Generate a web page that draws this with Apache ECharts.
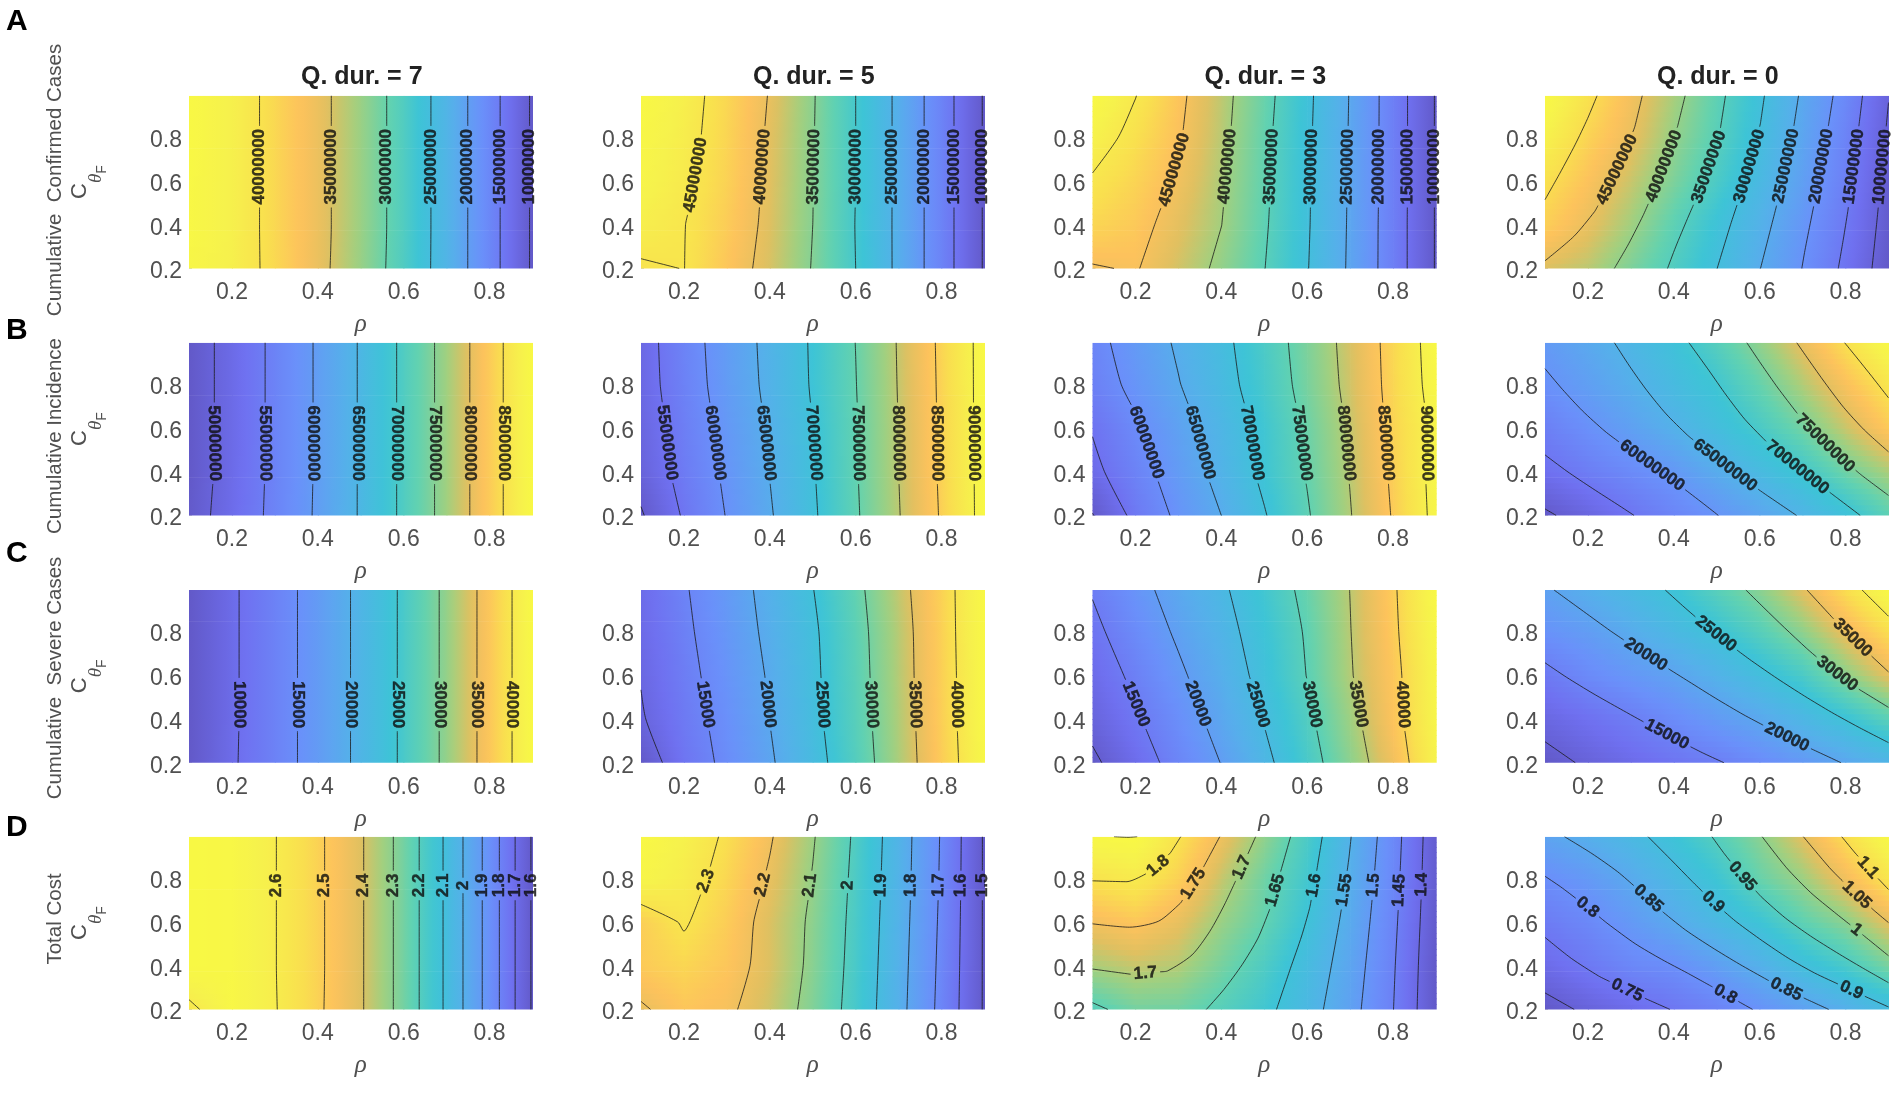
<!DOCTYPE html>
<html>
<head>
<meta charset="utf-8">
<title>Q. dur. contour panels</title>
<script src="https://cdn.jsdelivr.net/npm/echarts@6/dist/echarts.min.js"></script>
<style>
html,body{margin:0;padding:0;background:#fff;}
#chart{width:1901px;height:1094px;}
</style>
</head>
<body>
<div id="chart"></div>
<script>
// grid nodes of every panel
var rhoGrid = [0.1, 0.2, 0.3, 0.4, 0.5, 0.6, 0.7, 0.8, 0.9];
var cGrid = [0.99, 0.8, 0.6, 0.4, 0.2];
var tickValues = [0.2, 0.4, 0.6, 0.8];
var durTitles = ['Q. dur. = 7', 'Q. dur. = 5', 'Q. dur. = 3', 'Q. dur. = 0'];
var rowLetters = ['A', 'B', 'C', 'D'];
var rowNames = ['Cumulative  Confirmed Cases', 'Cumulative Incidence', 'Cumulative  Severe Cases', 'Total Cost'];
var rowUnits = [1000000, 1000000, 1000, 1];

// A: confirmed cases, millions. rows go from C=0.99 down to C=0.2
var zA1 = [[43.4,41.8,39.0,36.1,32.6,28.3,23.1,16.8,9.5],[43.4,41.8,39.0,36.1,32.6,28.3,23.1,16.8,9.5],[43.3,41.8,39.0,36.1,32.6,28.3,23.1,16.8,9.5],[43.2,41.8,39.0,36.1,32.6,28.3,23.1,16.8,9.5],[42.9,41.7,39.1,36.0,32.5,28.2,23.1,16.8,9.5]];
var levelsA1 = [40,35,30,25,20,15,10];
var labelsA1 = [[40,.266,.665],[35,.44,.665],[30,.565,.665],[25,.668,.665],[20,.753,.665],[15,.827,.665],[10,.893,.665]];
var zA2 = [[48.5,46.5,43.4,39.8,35.3,30.0,24.1,17.2,9.6],[48,46.2,43.2,39.5,35.2,30,24.1,17.2,9.6],[47.5,45.7,42.9,39.3,35.1,30,24.1,17.2,9.6],[46.4,45.1,42.4,39.1,35,29.9,24.1,17.2,9.6],[44.6,45.05,41.8,38.8,34.8,30,24.1,17.2,9.6]];
var levelsA2 = [45,40,35,30,25,20,15,10];
var labelsA2 = [[45,.23,.627],[40,.385,.665],[35,.505,.665],[30,.6,.665],[25,.686,.665],[20,.762,.665],[15,.831,.665],[10,.895,.665]];
var zA3 = [[53.5,50.1,45.9,41.4,36.4,30.9,24.8,17.7,9.7],[51.8,48.8,45.4,41.1,36,30.7,24.7,17.7,9.7],[49.6,47.4,44.5,40.5,35.8,30.5,24.6,17.7,9.7],[47.7,46.3,43.4,40.05,35.5,30.4,24.5,17.6,9.7],[44.7,45.3,42.3,39.1,35.1,30.2,24.4,17.6,9.7]];
var levelsA3 = [50,45,40,35,30,25,20,15,10];
var labelsA3 = [[45,.293,.65],[40,.42,.665],[35,.52,.665],[30,.61,.665],[25,.695,.665],[20,.77,.665],[15,.836,.665],[10,.895,.665]];
var zA4 = [[56,51,46.3,41.4,36.1,30.7,24.4,18.2,10.1],[54,49.2,45.4,40.2,35.5,29.9,23.8,17.1,9.5],[50.9,47.2,43.1,38.5,33.8,28.5,22.6,16.3,8.5],[48.8,45.2,41,36,31.2,26.3,20.8,15.05,8.2],[44.2,42.4,38.5,34.4,30.05,25.1,19.9,14,7.5]];
var levelsA4 = [50,45,40,35,30,25,20,15,10];
var labelsA4 = [[45,.27,.65],[40,.38,.665],[35,.48,.665],[30,.58,.665],[25,.67,.665],[20,.75,.665],[15,.82,.665],[10,.88,.665]];

// B: cumulative incidence, millions
var zB1 = [[47.7,51.6,56,60.5,65.4,70.9,76.6,82.9,89.5],[47.7,51.6,56,60.5,65.4,70.9,76.6,82.9,89.5],[47.7,51.6,56,60.5,65.4,70.9,76.6,82.9,89.5],[47.7,51.7,56,60.5,65.4,70.9,76.6,82.9,89.5],[48,52,56.1,60.6,65.4,70.9,76.6,82.9,89.5]];
var levelsB1 = [50,55,60,65,70,75,80,85];
var labelsB1 = [[50,.162,.53],[55,.277,.53],[60,.389,.53],[65,.492,.53],[70,.584,.53],[75,.675,.53],[80,.755,.53],[85,.832,.53]];
var zB2 = [[53,57.9,62.2,66.2,70.5,75.05,80.3,85.8,91.5],[52.9,57.6,62,66,70.4,74.9,80.2,85.7,91.5],[52.4,57,61.4,65.5,70,74.7,80.05,85.6,91.5],[51.8,56.5,60.8,65.1,69.7,74.7,80,85.6,91.4],[49.55,55.5,60.2,64.6,69.4,74.5,79.8,85.4,91.4]];
var levelsB2 = [50,55,60,65,70,75,80,85,90];
var labelsB2 = [[55,.15,.53],[60,.27,.53],[65,.39,.53],[70,.5,.53],[75,.605,.53],[80,.7,.53],[85,.79,.53],[90,.874,.53]];
var zB3 = [[58.5,62.1,65.6,68.9,72.7,76.8,81.5,86.5,92],[57.6,61.2,64.8,68.4,72.2,76.5,81.2,86.4,91.7],[55.3,59.4,63.3,67.2,71.3,75.7,80.6,86.1,91],[53.8,58.1,62.3,66.5,71,75.3,80.2,85.7,91.4],[49.8,56.3,60.9,65,69.7,74.6,79.8,85.3,91.2]];
var levelsB3 = [50,55,60,65,70,75,80,85,90];
var labelsB3 = [[60,.22,.53],[65,.345,.53],[70,.47,.53],[75,.585,.53],[80,.69,.53],[85,.78,.53],[90,.873,.53]];
var zB4 = [[61,63.4,66,68.8,72.2,76.2,80.6,85.1,89.5],[59.4,61.8,64.4,67.2,69.8,73.6,77.8,81.9,85.9],[56.6,59.4,62,64.8,67.8,70.9,74.5,78.8,83],[54,56.3,58.4,60.6,63.9,66.9,70.05,74.2,77.5],[49.3,52,54.8,57.5,59.9,62.6,65.4,68.5,72.9]];
var levelsB4 = [50,55,60,65,70,75,80,85];
var labelsB4 = [[60,.345,.415],[65,.514,.415],[70,.68,.4],[75,.743,.511]];

// C: severe cases, thousands
var zC1 = [[5.8,9.4,13,16.8,21,25.7,30.9,36.7,43],[5.8,9.4,13,16.8,21,25.7,30.9,36.7,43],[5.8,9.4,13,16.8,21,25.7,30.9,36.7,43],[5.8,9.4,13,16.8,21,25.7,30.9,36.7,43],[5.8,9.5,13,16.8,21,25.7,30.9,36.7,43]];
var levelsC1 = [10,15,20,25,30,35,40];
var labelsC1 = [[10,.217,.466],[15,.358,.466],[20,.477,.466],[25,.586,.466],[30,.683,.466],[35,.772,.466],[40,.855,.466]];
var zC2 = [[11,14.6,17.9,21.3,24.9,29,33.7,38.4,43.5],[10.8,14.2,17.5,20.9,24.4,28.6,33.3,38.3,43.5],[10.2,13.7,17,20.4,24.2,28.4,33.2,38.2,43.4],[9.6,13.2,16.5,20.05,24,28.2,33,38.1,43.4],[7.5,12.5,16,19.5,23.5,27.8,32.8,37.9,43.2]];
var levelsC2 = [10,15,20,25,30,35,40];
var labelsC2 = [[15,.25,.466],[20,.39,.466],[25,.525,.466],[30,.64,.466],[35,.74,.466],[40,.836,.466]];
var zC3 = [[15.3,18.7,21.6,24.4,27.6,31,35.05,39.5,45],[14,17.4,20.6,23.6,26.9,30.4,34.9,39.3,44.6],[12.6,15.9,19.3,22.6,26.3,30.1,34.7,38.9,44.3],[11.3,14.5,17.9,21.5,25.2,29.2,33.8,38.7,44.2],[9.2,12.9,16.6,20.1,24,28.3,32.9,37.7,43.8]];
var levelsC3 = [10,15,20,25,30,35,40];
var labelsC3 = [[15,.2,.466],[20,.34,.466],[25,.485,.466],[30,.61,.466],[35,.715,.466],[40,.825,.466]];
var zC4 = [[19.6,21.5,23.4,25.4,28.1,30.9,34.6,38.5,42.4],[17.5,18.9,21,23.2,25.3,28,31.2,35.1,38.6],[14,16.4,18.1,19.7,21.9,24.3,26.9,31,34.7],[11.3,12.9,14.6,16.6,18.6,20.4,22.8,25.2,28.3],[8.8,10.5,12,13.4,14.7,16.5,18.3,20.2,22.2]];
var levelsC4 = [10,15,20,25,30,35,40];
var labelsC4 = [[20,.337,.7],[25,.496,.785],[35,.815,.77],[30,.776,.595],[15,.383,.326],[20,.66,.303]];

// D: total cost
var zD1 = [[2.67,2.66,2.603,2.517,2.41,2.265,2.085,1.862,1.59],[2.67,2.66,2.603,2.517,2.41,2.265,2.085,1.862,1.59],[2.67,2.66,2.603,2.517,2.41,2.265,2.085,1.862,1.59],[2.67,2.66,2.603,2.517,2.41,2.265,2.085,1.862,1.59],[2.58,2.66,2.605,2.515,2.41,2.265,2.085,1.862,1.59]];
var levelsD1 = [2.6,2.5,2.4,2.3,2.2,2.1,2,1.9,1.8,1.7,1.6];
var labelsD1 = [[2.6,.3,.767],[2.5,.421,.767],[2.4,.508,.767],[2.3,.579,.767],[2.2,.639,.767],[2.1,.693,.767],[2,.741,.767],[1.9,.785,.767],[1.8,.825,.767],[1.7,.862,.767],[1.6,.897,.767]];
var zD2 = [[2.39,2.35,2.288,2.208,2.107,1.986,1.848,1.693,1.49],[2.37,2.335,2.27,2.19,2.096,1.98,1.845,1.69,1.49],[2.253,2.308,2.25,2.17,2.085,1.975,1.84,1.685,1.49],[2.245,2.27,2.235,2.17,2.08,1.97,1.835,1.68,1.49],[2.19,2.235,2.215,2.155,2.07,1.965,1.83,1.675,1.49]];
var levelsD2 = [2.3,2.2,2.1,2,1.9,1.8,1.7,1.6,1.5];
var labelsD2 = [[2.3,.262,.78],[2.2,.39,.767],[2.1,.495,.767],[2,.585,.767],[1.9,.662,.767],[1.8,.73,.767],[1.7,.795,.767],[1.6,.84,.767],[1.5,.895,.767]];
var zD3 = [[1.848,1.852,1.803,1.748,1.688,1.626,1.552,1.47,1.37],[1.803,1.817,1.78,1.72,1.665,1.615,1.545,1.467,1.37],[1.752,1.768,1.742,1.695,1.655,1.6005,1.535,1.46,1.365],[1.705,1.72,1.71,1.67,1.63,1.58,1.525,1.453,1.36],[1.64,1.668,1.665,1.642,1.612,1.57,1.517,1.451,1.36]];
var levelsD3 = [1.85,1.8,1.75,1.7,1.65,1.6,1.55,1.5,1.45,1.4];
var labelsD3 = [[1.8,.26,.843],[1.75,.344,.763],[1.7,.457,.841],[1.65,.533,.74],[1.6,.619,.766],[1.55,.693,.743],[1.5,.76,.767],[1.45,.82,.743],[1.4,.872,.77],[1.7,.227,.293]];
var zD4 = [[.84,.862,.888,.918,.954,.997,1.049,1.105,1.16],[.798,.82,.852,.888,.923,.973,1.01,1.062,1.117],[.762,.787,.82,.852,.888,.92,.965,.998,1.051],[.728,.757,.785,.799,.83,.865,.905,.938,.985],[.683,.708,.73,.752,.775,.805,.833,.861,.895]];
var levelsD4 = [.7,.75,.8,.85,.9,.95,1,1.05,1.1];
var labelsD4 = [[.95,.564,.816],[.85,.344,.714],[.9,.497,.702],[.8,.193,.652],[1.1,.846,.838],[1.05,.821,.712],[1,.818,.547],[.75,.292,.291],[.8,.518,.262],[.85,.66,.285],[.9,.811,.277]];

// colour scale, low to high
var mapColors = ['#6259c8','#6f70f0','#6a90fa','#55b0ea','#3dc4d6','#62d2b0','#a0d080','#e0c060','#fdc25c','#f9e04e','#f6f24c','#f8f844'];
var mapStops = [0,.12,.25,.38,.5,.6,.69,.76,.82,.89,.96,1];

var panelZ = [[zA1,zA2,zA3,zA4],[zB1,zB2,zB3,zB4],[zC1,zC2,zC3,zC4],[zD1,zD2,zD3,zD4]];
var panelLevels = [[levelsA1,levelsA2,levelsA3,levelsA4],[levelsB1,levelsB2,levelsB3,levelsB4],[levelsC1,levelsC2,levelsC3,levelsC4],[levelsD1,levelsD2,levelsD3,levelsD4]];
var panelLabels = [[labelsA1,labelsA2,labelsA3,labelsA4],[labelsB1,labelsB2,labelsB3,labelsB4],[labelsC1,labelsC2,labelsC3,labelsC4],[labelsD1,labelsD2,labelsD3,labelsD4]];

var colLeft = [189, 641, 1092.5, 1545];
var rowTop = [95.7, 342.7, 590, 836.7];
var gridW = 343.5, gridH = 172.7;
var sx = gridW / 0.8, sy = gridH / 0.79;
var textGrey = '#505050';
var labelFont = 17;

function hexRgb(h) {
    return [parseInt(h.substr(1,2),16), parseInt(h.substr(3,2),16), parseInt(h.substr(5,2),16)];
}
var mapRgb = mapColors.map(hexRgb);

function colorAt(t) {
    t = Math.max(0, Math.min(1, t));
    var k = 0;
    while (k < mapStops.length - 2 && t > mapStops[k+1]) k++;
    var f = (t - mapStops[k]) / (mapStops[k+1] - mapStops[k]);
    var a = mapRgb[k], b = mapRgb[k+1];
    return 'rgb(' + Math.round(a[0]+(b[0]-a[0])*f) + ',' + Math.round(a[1]+(b[1]-a[1])*f) + ',' + Math.round(a[2]+(b[2]-a[2])*f) + ')';
}

// shaded surface, like shading interp: each cell is cut in strips with a gradient
function heatSeries(idx, z) {
    var rows = z.slice().reverse();
    var cs = cGrid.slice().reverse();
    var lo = Infinity, hi = -Infinity;
    rows.forEach(function (r) { r.forEach(function (v) { lo = Math.min(lo, v); hi = Math.max(hi, v); }); });
    var data = [];
    for (var j = 0; j < 4; j++) for (var i = 0; i < 8; i++) data.push([rhoGrid[i], cs[j], i, j]);
    return {
        type: 'custom', xAxisIndex: idx, yAxisIndex: idx, silent: true, clip: true, z: 1,
        data: data, encode: {x: 0, y: 1},
        renderItem: function (params, api) {
            var i = api.value(2), j = api.value(3);
            var p0 = api.coord([rhoGrid[i], cs[j]]);
            var p1 = api.coord([rhoGrid[i+1], cs[j+1]]);
            var kids = [], strips = 8, steps = 6;
            for (var s = 0; s < strips; s++) {
                var v = (s + 0.5) / strips;
                var stops = [];
                for (var k = 0; k <= steps; k++) {
                    var u = k / steps;
                    var val = (rows[j][i]*(1-u) + rows[j][i+1]*u)*(1-v) + (rows[j+1][i]*(1-u) + rows[j+1][i+1]*u)*v;
                    stops.push({offset: u, color: colorAt((val - lo) / (hi - lo))});
                }
                var yTop = p0[1] + (p1[1]-p0[1])*(s+1)/strips;
                var yBot = p0[1] + (p1[1]-p0[1])*s/strips;
                kids.push({
                    type: 'rect',
                    shape: {x: p0[0], y: yTop, width: p1[0]-p0[0]+0.7, height: yBot-yTop+0.7},
                    style: {fill: {type: 'linear', x: 0, y: 0, x2: 1, y2: 0, colorStops: stops}}
                });
            }
            return {type: 'group', children: kids};
        }
    };
}

// marching squares over the grid, chained to polylines
function contourChains(z, level) {
    var rows = z.slice().reverse();
    var cs = cGrid.slice().reverse();
    var pts = {}, links = {};
    function edge(key, a, b, x0, y0, x1, y1) {
        if ((a >= level) === (b >= level)) return null;
        var f = (level - a) / (b - a);
        pts[key] = [x0 + (x1-x0)*f, y0 + (y1-y0)*f];
        return key;
    }
    function link(a, b) {
        (links[a] = links[a] || []).push(b);
        (links[b] = links[b] || []).push(a);
    }
    for (var j = 0; j < 4; j++) for (var i = 0; i < 8; i++) {
        var xa = rhoGrid[i], xb = rhoGrid[i+1], ya = cs[j], yb = cs[j+1];
        var bl = rows[j][i], br = rows[j][i+1], tl = rows[j+1][i], tr = rows[j+1][i+1];
        var e = [
            edge('h'+i+'_'+j, bl, br, xa, ya, xb, ya),
            edge('v'+(i+1)+'_'+j, br, tr, xb, ya, xb, yb),
            edge('h'+i+'_'+(j+1), tr, tl, xb, yb, xa, yb),
            edge('v'+i+'_'+j, tl, bl, xa, yb, xa, ya)
        ].filter(function (k) { return k; });
        if (e.length === 2) link(e[0], e[1]);
        if (e.length === 4) { link(e[0], e[3]); link(e[1], e[2]); }
    }
    var seen = {}, chains = [];
    function walk(start) {
        var out = [pts[start]], cur = start, prev = null;
        seen[start] = true;
        while (true) {
            var nx = (links[cur] || []).filter(function (k) { return !seen[k] && k !== prev; })[0];
            if (!nx) break;
            seen[nx] = true; out.push(pts[nx]); prev = cur; cur = nx;
        }
        return out;
    }
    Object.keys(links).forEach(function (k) { if (links[k].length === 1 && !seen[k]) chains.push(walk(k)); });
    Object.keys(links).forEach(function (k) {
        if (!seen[k]) { var c = walk(k); c.push(c[0]); chains.push(c); }
    });
    return chains;
}

// the curved panels look too polygonal on this coarse grid, ease the corners
function relax(chain, passes) {
    for (var p = 0; p < passes; p++) {
        var next = chain.map(function (q) { return q.slice(); });
        for (var i = 1; i < chain.length - 1; i++) {
            next[i][0] = (chain[i-1][0] + 2*chain[i][0] + chain[i+1][0]) / 4;
            next[i][1] = (chain[i-1][1] + 2*chain[i][1] + chain[i+1][1]) / 4;
        }
        chain = next;
    }
    return chain;
}

function textWidth(txt) {
    var w = 0;
    for (var i = 0; i < txt.length; i++) w += txt[i] === '.' ? 0.278 : 0.556;
    return w * labelFont;
}

function pointAt(chain, lens, s) {
    var k = 0;
    while (k < lens.length - 2 && s > lens[k+1]) k++;
    var f = (s - lens[k]) / ((lens[k+1] - lens[k]) || 1);
    f = Math.max(0, Math.min(1, f));
    return [chain[k][0] + (chain[k+1][0]-chain[k][0])*f, chain[k][1] + (chain[k+1][1]-chain[k][1])*f];
}

// one panel: the contour pieces with gaps for the labels, and the labels themselves
function contourSeries(idx, z, levels, labels, unit, vertSign, passes) {
    var out = [], labelData = [];
    levels.forEach(function (level) {
        var chains = contourChains(z, level).map(function (ch) { return relax(ch, passes); });
        var cuts = chains.map(function () { return []; });
        var lens = chains.map(function (ch) {
            var l = [0];
            for (var i = 1; i < ch.length; i++) {
                l.push(l[i-1] + Math.hypot((ch[i][0]-ch[i-1][0])*sx, (ch[i][1]-ch[i-1][1])*sy));
            }
            return l;
        });
        labels.forEach(function (lb) {
            if (Math.abs(lb[0] - level) > 1e-9) return;
            var best = null;
            chains.forEach(function (ch, n) {
                for (var i = 0; i < ch.length - 1; i++) {
                    var ax = ch[i][0]*sx, ay = ch[i][1]*sy, bx = ch[i+1][0]*sx, by = ch[i+1][1]*sy;
                    var px = lb[1]*sx, py = lb[2]*sy;
                    var dd = (bx-ax)*(bx-ax) + (by-ay)*(by-ay);
                    var t = dd ? Math.max(0, Math.min(1, ((px-ax)*(bx-ax) + (py-ay)*(by-ay)) / dd)) : 0;
                    var qx = ax + (bx-ax)*t, qy = ay + (by-ay)*t;
                    var d = Math.hypot(px-qx, py-qy);
                    if (!best || d < best.d) best = {d: d, n: n, s: lens[n][i] + Math.sqrt(dd)*t, x: qx/sx, y: qy/sy};
                }
            });
            if (!best) return;
            var txt = String(+(level * unit).toFixed(3));
            var half = textWidth(txt) / 2 + 3;
            var ch = chains[best.n], ln = lens[best.n];
            var p0 = pointAt(ch, ln, best.s - half), p1 = pointAt(ch, ln, best.s + half);
            var ang = Math.atan2((p1[1]-p0[1])*sy, (p1[0]-p0[0])*sx) * 180 / Math.PI;
            if (ang > 90) ang -= 180;
            if (ang <= -90) ang += 180;
            if (Math.abs(ang) > 84) ang = vertSign * Math.abs(ang);
            cuts[best.n].push([best.s - half, best.s + half]);
            labelData.push({
                value: [best.x, best.y],
                label: {show: true, position: 'inside', rotate: ang, formatter: txt,
                    fontFamily: 'Liberation Sans', fontWeight: 'bold', fontSize: labelFont, color: '#0c0c0c',
                    textBorderColor: '#0c0c0c', textBorderWidth: 0.4}
            });
        });
        chains.forEach(function (ch, n) {
            var ln = lens[n], total = ln[ln.length-1], pos = 0;
            var list = cuts[n].sort(function (a, b) { return a[0] - b[0]; }).concat([[total, total]]);
            list.forEach(function (cut) {
                if (cut[0] > pos) {
                    var piece = [pointAt(ch, ln, pos)];
                    for (var i = 0; i < ch.length; i++) if (ln[i] > pos && ln[i] < cut[0]) piece.push(ch[i]);
                    piece.push(pointAt(ch, ln, cut[0]));
                    out.push({
                        type: 'line', xAxisIndex: idx, yAxisIndex: idx, data: piece, showSymbol: false, silent: true, z: 3,
                        smooth: 0.25, lineStyle: {color: '#1c1c1c', width: 1, opacity: 0.8}
                    });
                }
                pos = Math.max(pos, cut[1]);
            });
        });
    });
    out.push({
        type: 'scatter', xAxisIndex: idx, yAxisIndex: idx, symbolSize: 0, silent: true, z: 5, clip: false, data: labelData
    });
    return out;
}

var grids = [], xAxes = [], yAxes = [], series = [], titles = [], graphics = [];

durTitles.forEach(function (t, c) {
    titles.push({text: t, left: colLeft[c] + gridW/2 - 4, top: 60, textAlign: 'center',
        textStyle: {fontFamily: 'Liberation Sans', fontWeight: 'bold', fontSize: 25, color: '#222'}});
});
var letterTops = [2, 311, 534, 808];
var nameCenters = [180, 436, 678, 919];
rowLetters.forEach(function (t, r) {
    titles.push({text: t, left: 1, top: letterTops[r],
        textStyle: {fontFamily: 'Liberation Sans', fontWeight: 'bold', fontSize: 30, color: '#000'}});
    graphics.push({type: 'text', x: 55, y: nameCenters[r], rotation: Math.PI/2,
        style: {text: rowNames[r], font: '20.5px "Liberation Sans"', fill: textGrey, textAlign: 'center', textVerticalAlign: 'middle'}});
});

rowLetters.forEach(function (letter, r) {
    durTitles.forEach(function (dur, c) {
        var idx = grids.length;
        grids.push({left: colLeft[c], top: rowTop[r], width: gridW, height: gridH, containLabel: false});
        xAxes.push({
            type: 'value', gridIndex: idx, min: 0.1, max: 0.9,
            splitLine: {show: false}, axisLine: {show: false},
            axisTick: {show: true, inside: true, length: 3, lineStyle: {color: 'rgba(0,0,0,0.18)'}, customValues: tickValues},
            axisLabel: {customValues: tickValues, margin: 13, fontFamily: 'Liberation Sans', fontSize: 23, color: textGrey,
                formatter: function (v) { return v.toFixed(1); }},
            name: 'ρ', nameLocation: 'middle', nameGap: 44,
            nameTextStyle: {fontFamily: 'Liberation Serif', fontStyle: 'italic', fontSize: 25, color: textGrey}
        });
        yAxes.push({
            type: 'value', gridIndex: idx, min: 0.2, max: 0.99,
            splitLine: {show: false}, axisLine: {show: false},
            axisTick: {show: true, inside: true, length: 3, lineStyle: {color: 'rgba(0,0,0,0.18)'}, customValues: tickValues},
            axisLabel: {customValues: tickValues, margin: 7,
                formatter: function (v) { return '{v|' + v.toFixed(1) + '}'; },
                rich: {v: {fontFamily: 'Liberation Sans', fontSize: 23, color: textGrey, padding: [7, 0, 0, 0]}}},
            name: c === 0 ? '{c|C}{t|θ}{f|F}' : '', nameLocation: 'middle', nameGap: 80,
            nameTextStyle: {
                rich: {
                    c: {fontFamily: 'Liberation Sans', fontSize: 22, color: textGrey, lineHeight: 40, verticalAlign: 'top'},
                    t: {fontFamily: 'Liberation Serif', fontStyle: 'italic', fontSize: 19, color: textGrey, lineHeight: 18, verticalAlign: 'bottom', padding: [0, 0, 4, 0]},
                    f: {fontFamily: 'Liberation Sans', fontSize: 14, color: textGrey, lineHeight: 14, verticalAlign: 'bottom'}
                }
            }
        });
        var passes = (c === 3 || (r === 3 && c === 2)) ? 2 : 0;
        series.push(heatSeries(idx, panelZ[r][c]));
        series = series.concat(contourSeries(idx, panelZ[r][c], panelLevels[r][c], panelLabels[r][c], rowUnits[r], (r === 0 || r === 3) ? 1 : -1, passes));
    });
});

var myChart = echarts.init(document.getElementById('chart'));
myChart.setOption({
    animation: false,
    backgroundColor: '#fff',
    title: titles,
    graphic: graphics,
    grid: grids,
    xAxis: xAxes,
    yAxis: yAxes,
    series: series
});
</script>
</body>
</html>
